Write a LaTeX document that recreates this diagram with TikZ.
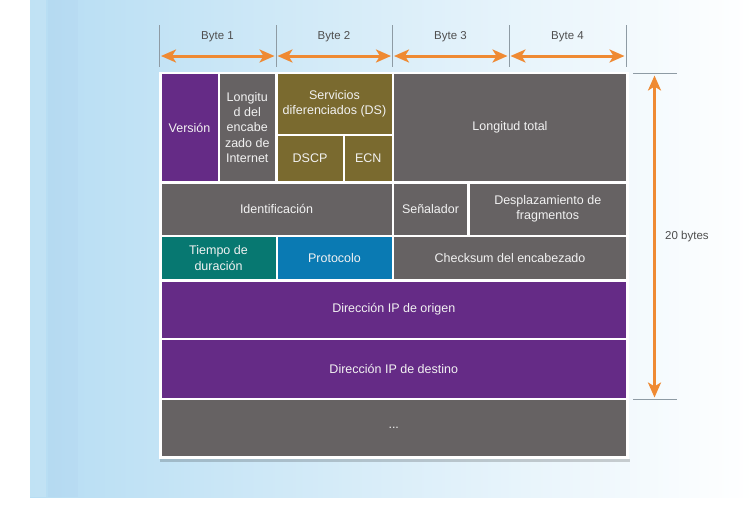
\documentclass[tikz,border=0pt]{standalone}
\usepackage{fontspec}
\setmainfont{Liberation Sans}
\usepackage{tikz}
\usetikzlibrary{arrows.meta}

\definecolor{morado}{HTML}{652B86}
\definecolor{gris}{HTML}{666263}
\definecolor{oliva}{HTML}{7A6A2F}
\definecolor{verdeazul}{HTML}{077871}
\definecolor{azul}{HTML}{0A7AB3}
\definecolor{naranja}{HTML}{EF8A33}
\definecolor{fondo}{HTML}{B6DDF3}
\definecolor{linea}{HTML}{8E9BA4}
\definecolor{texto}{HTML}{4F4F4F}

\begin{document}
\begin{tikzpicture}[x=1pt, y=-1pt,
        celda/.style={inner sep=0pt, outer sep=0pt, anchor=north west, align=center,
            text=white!95!black, font=\fontsize{12.5}{15.3}\selectfont},
        etiqueta/.style={inner sep=0pt, text=texto, font=\fontsize{11.5}{13}\selectfont},
        flecha/.style={naranja, line width=3pt,
            {Stealth[length=15pt, width=13pt, inset=4pt]}-{Stealth[length=15pt, width=13pt, inset=4pt]}},
        marca/.style={linea, line width=0.8pt}]
        \useasboundingbox (0,0) rectangle (753,512);
        
        % Fondo
        \fill[white] (0,0) rectangle (753,512);
        \shade[left color=fondo, middle color=fondo!45, right color=white] (30,0) rectangle (753,497);
        \fill[fondo!80!blue!90!black, opacity=0.05] (48,0) rectangle (78,497);
        \fill[white, opacity=0.15] (30,0) rectangle (46,497);
        
        % Bytes
        \coordinate (m0) at (159.5,56);
        \coordinate (m1) at (276,56);
        \coordinate (m2) at (392.5,56);
        \coordinate (m3) at (509,56);
        \coordinate (m4) at (626,56);
        \draw[marca] (m0) ++(0,-31) -- ++(0,42);
        \draw[marca] (m1) ++(0,-31) -- ++(0,42);
        \draw[marca] (m2) ++(0,-31) -- ++(0,42);
        \draw[marca] (m3) ++(0,-31) -- ++(0,42);
        \draw[marca] (m4) ++(0,-31) -- ++(0,42);
        \node[etiqueta] (byte1) at (217.5,37) {Byte 1};
        \node[etiqueta] (byte2) at (334,37) {Byte 2};
        \node[etiqueta] (byte3) at (450.5,37) {Byte 3};
        \node[etiqueta] (byte4) at (567.5,37) {Byte 4};
        \draw[flecha, shorten <=1.5pt, shorten >=1.5pt] (m0) -- (m1);
        \draw[flecha, shorten <=1.5pt, shorten >=1.5pt] (m1) -- (m2);
        \draw[flecha, shorten <=1.5pt, shorten >=1.5pt] (m2) -- (m3);
        \draw[flecha, shorten <=1.5pt, shorten >=1.5pt] (m3) -- (m4);
        
        % Tabla
        \fill[black, opacity=0.18] (160,459) rectangle (629.5,461.5);
        \fill[white] (159,71.5) rectangle (628.5,458.5);
        
        % Fila 1
        \node[celda, fill=morado, minimum width=56pt, minimum height=107pt] (version) at (161.5,74) {Versión};
        \node[celda, fill=gris, minimum width=55.5pt, minimum height=107pt] (ihl) at (219.5,74) {Longitu\\d del\\encabe\\zado de\\Internet};
        \node[celda, fill=oliva, minimum width=114pt, minimum height=59.5pt] (ds) at (277.5,74) {Servicios\\diferenciados (DS)};
        \node[celda, fill=oliva, minimum width=65pt, minimum height=45pt] (dscp) at (277.5,136) {DSCP};
        \node[celda, fill=oliva, minimum width=46.5pt, minimum height=45pt] (ecn) at (345,136) {ECN};
        \node[celda, fill=gris, minimum width=232pt, minimum height=107pt] (total) at (394,74) {Longitud total};
        
        % Fila 2
        \node[celda, fill=gris, minimum width=230pt, minimum height=51pt] (ident) at (161.5,183.5) {Identificación};
        \node[celda, fill=gris, minimum width=73pt, minimum height=51pt] (senal) at (394,183.5) {Señalador};
        \node[celda, fill=gris, minimum width=156.5pt, minimum height=51pt] (despl) at (469.5,183.5) {Desplazamiento de\\fragmentos};
        
        % Fila 3
        \node[celda, fill=verdeazul, minimum width=114pt, minimum height=42pt] (tiempo) at (161.5,237) {Tiempo de\\duración};
        \node[celda, fill=azul, minimum width=114pt, minimum height=42pt] (proto) at (277.5,237) {Protocolo};
        \node[celda, fill=gris, minimum width=232pt, minimum height=42pt] (check) at (394,237) {Checksum del encabezado};
        
        % Direcciones
        \node[celda, fill=morado, minimum width=464.5pt, minimum height=56pt] (origen) at (161.5,281.5) {Dirección IP de origen};
        \node[celda, fill=morado, minimum width=464.5pt, minimum height=57.5pt] (destino) at (161.5,340) {Dirección IP de destino};
        \node[celda, fill=gris, minimum width=464.5pt, minimum height=56pt] (resto) at (161.5,400) {...};
        
        % 20 bytes
        \coordinate (arriba) at (654.5,73.5);
        \coordinate (abajo) at (654.5,399.5);
        \draw[marca] (arriba) ++(-21.5,0) -- ++(44,0);
        \draw[marca] (abajo) ++(-21.5,0) -- ++(44,0);
        \draw[flecha, shorten <=2pt, shorten >=2pt] (arriba) -- (abajo);
        \node[etiqueta, anchor=west] (veinte) at (665,237) {20 bytes};
    \end{tikzpicture}
\end{document}
